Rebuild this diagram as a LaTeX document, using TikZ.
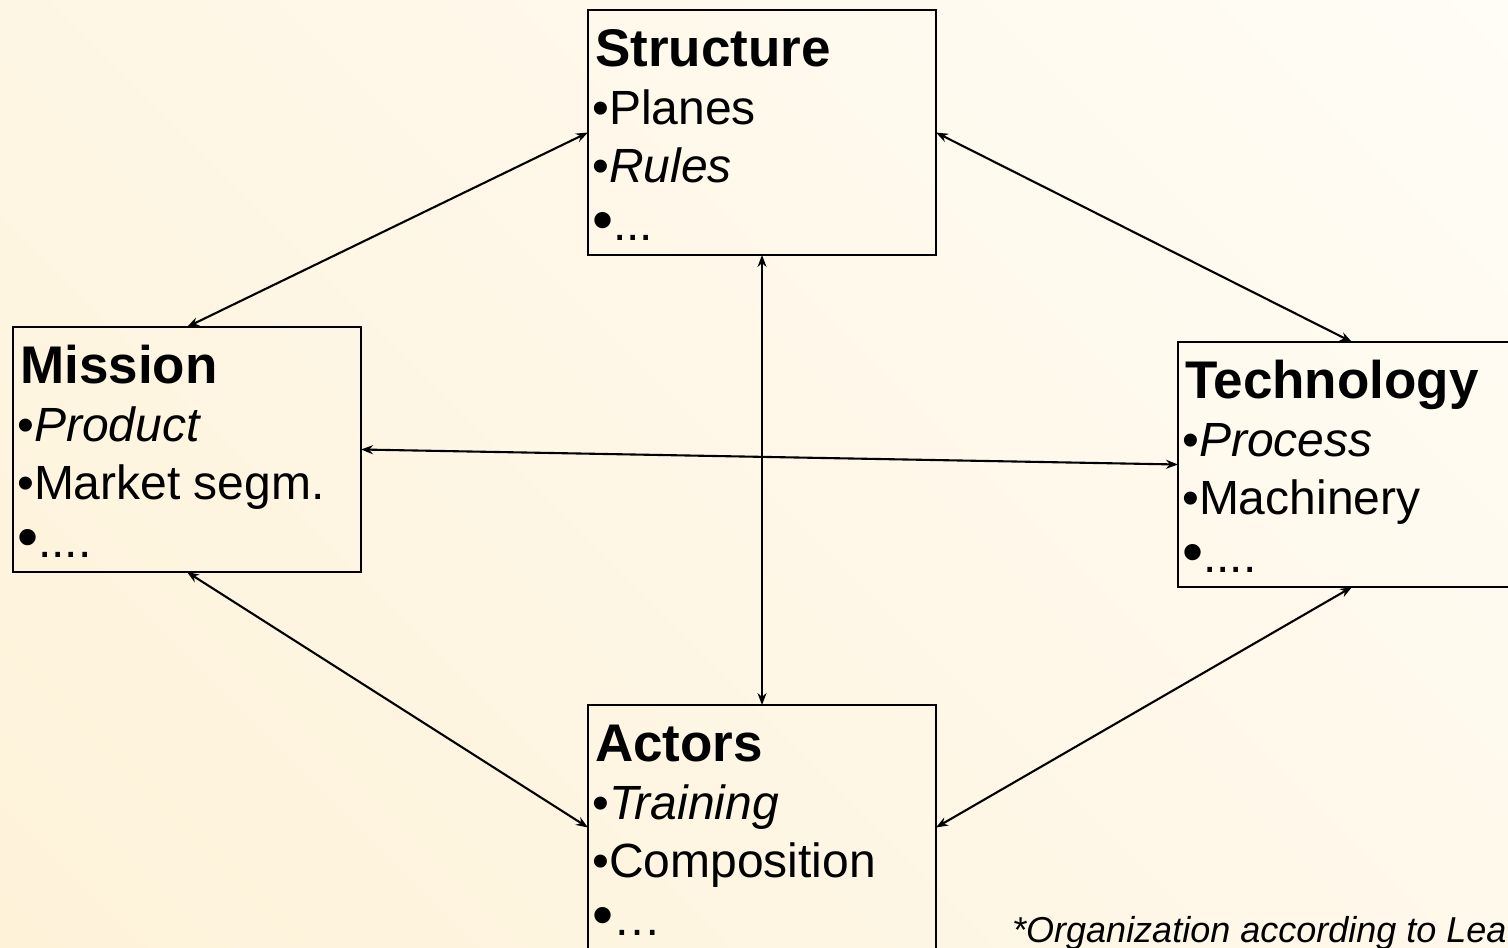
\documentclass[tikz,border=0pt]{standalone}
\usepackage{fontspec}
\setmainfont{Liberation Sans}
\usetikzlibrary{arrows.meta}
\definecolor{bgdark}{RGB}{254,242,216}
\definecolor{bglight}{RGB}{255,253,247}
\newcommand{\bigbul}{{\fontsize{60}{58}\selectfont •}}
\begin{document}
\begin{tikzpicture}[x=1pt,y=-1pt,
  box/.style={draw=black, line width=2.6pt, minimum width=348pt, minimum height=245pt, inner sep=0pt, outer sep=0pt, anchor=north west},
  head/.style={anchor=base west, inner sep=0pt, font=\fontsize{53}{58}\selectfont\bfseries},
  item/.style={anchor=base west, inner sep=0pt, font=\fontsize{48}{58}\selectfont},
  link/.style={{Stealth[length=12pt,width=9pt]}-{Stealth[length=12pt,width=9pt]}, line width=2.1pt},
  note/.style={anchor=base west, inner sep=0pt, font=\fontsize{36}{40}\selectfont\itshape}]
\useasboundingbox (0,0) rectangle (1508,948);
\clip (0,0) rectangle (1508,948);
\shade[top color=bglight, bottom color=bgdark, shading angle=-45] (-300,-300) rectangle (1808,1248);

% boxes
\node[box] (st) at (588,10) {};
\node[box] (mi) at (13,327) {};
\node[box] (te) at (1178,342) {};
\node[box] (ac) at (588,705) {};

% Structure
\node[head] (st0) at (595,66) {Structure};
\node[item] (st1) at (592,124) {•Planes};
\node[item] (st2) at (592,182) {•\textit{Rules}};
\node[item] (st3) at (592,240) {\bigbul...};
% Mission
\node[head] (mi0) at (20,383) {Mission};
\node[item] (mi1) at (17,441) {•\textit{Product}};
\node[item] (mi2) at (17,499) {•Market segm.};
\node[item] (mi3) at (17,557) {\bigbul....};
% Technology
\node[head] (te0) at (1185,398) {Technology};
\node[item] (te1) at (1182,456) {•\textit{Process}};
\node[item] (te2) at (1182,514) {•Machinery};
\node[item] (te3) at (1182,572) {\bigbul....};
% Actors
\node[head] (ac0) at (595,761) {Actors};
\node[item] (ac1) at (592,819) {•\textit{Training}};
\node[item] (ac2) at (592,877) {•Composition};
\node[item] (ac3) at (592,935) {\bigbul…};

% connectors
\draw[link] (st.west) -- (mi.north);
\draw[link] (st.east) -- (te.north);
\draw[link] (st.south) -- (ac.north);
\draw[link] (mi.east) -- (te.west);
\draw[link] (mi.south) -- (ac.west);
\draw[link] (te.south) -- (ac.east);

% note
\node[note] (nt) at (1012,942) {*Organization according to Lea};
\end{tikzpicture}
\end{document}
